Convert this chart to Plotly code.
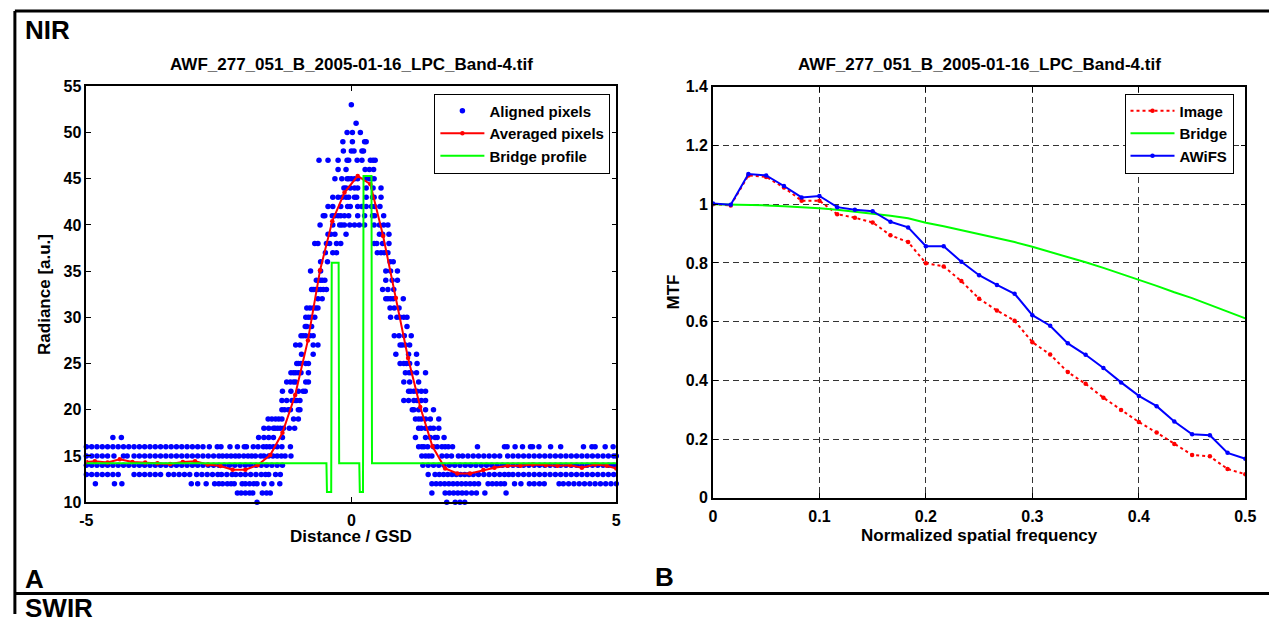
import plotly.graph_objects as go

W, H = 1280, 623

# ---------------- panel A: aligned edge profile ----------------
# radiance level -> distance positions of the aligned pixels
r10 = [-1.78, 1.8, 1.96, 2.05, 2.14]
r11 = [-2.15, -2.08, -2.0, -1.92, -1.86, -1.68, -1.6, -1.53,
       1.52, 1.77, 1.85, 1.93, 2.01, 2.09, 2.17, 2.27, 2.36, 2.52, 2.92]
r12 = [-4.83, -4.47, -4.33, -3.02, -2.9, -2.74, -2.58, -2.5, -2.43, -2.34, -2.27, -2.21,
       -2.06, -2.0, -1.92, -1.84, -1.78, -1.65, -1.5, -1.35,
       1.52, 1.6, 1.68, 1.76, 1.84, 1.92, 2.0, 2.08, 2.16, 2.24, 2.32, 2.4, 2.58, 2.66,
       2.74, 2.82, 2.89, 3.08, 3.2, 3.36, 3.45, 3.55, 3.64, 3.92, 4.0, 4.1, 4.2, 4.3,
       4.4, 4.5, 4.6, 4.7, 4.8, 4.9, 5.0]
r13 = [-5.0, -4.9, -4.8, -4.7, -4.6, -4.5, -4.4, -4.1, -4.0, -3.9, -3.8, -3.7, -3.6,
       -3.45, -3.35, -3.25, -3.15, -3.05, -2.92, -2.82, -2.72, -2.62, -2.52, -2.45,
       -2.35, -2.25, -2.18, -2.09, -2.0, -1.9, -1.8, -1.7, -1.62, -1.56, -1.43, -1.34,
       1.45, 1.58, 1.66, 1.74, 1.82, 1.9, 1.98, 2.06, 2.14, 2.22, 2.3, 2.4, 2.5, 2.6,
       2.7, 2.8, 2.89, 2.97, 3.05, 3.15, 3.25, 3.35, 3.45, 3.55, 3.65, 3.75, 3.85, 3.95,
       4.05, 4.15, 4.25, 4.35, 4.45, 4.55, 4.65, 4.75, 4.85, 4.95]
r14 = [-5.0, -4.9, -4.8, -4.7, -4.6, -4.5, -4.4, -4.3, -4.2, -4.1, -4.0, -3.9, -3.8,
       -3.7, -3.6, -3.5, -3.4, -3.3, -3.2, -3.1, -3.0, -2.9, -2.8, -2.7, -2.6, -2.5,
       -2.4, -2.3, -2.2, -2.1, -2.0, -1.9, -1.8, -1.7, -1.6, -1.5, -1.4, -1.3,
       1.35, 1.45, 1.55, 1.65, 1.75, 1.85, 1.95, 2.05, 2.15, 2.25, 2.35, 2.45, 2.55,
       2.65, 2.75, 2.85, 2.95, 3.05, 3.15, 3.25, 3.35, 3.45, 3.55, 3.65, 3.75, 3.85,
       3.95, 4.05, 4.15, 4.25, 4.35, 4.45, 4.55, 4.65, 4.75, 4.85, 4.95]
r15 = [-5.0, -4.9, -4.8, -4.7, -4.6, -4.48, -4.3, -4.23, -4.1, -4.0, -3.9, -3.8, -3.7,
       -3.6, -3.5, -3.4, -3.3, -3.2, -3.1, -3.0, -2.9, -2.8, -2.7, -2.6, -2.5, -2.43,
       -2.35, -2.27, -2.19, -2.12, -2.03, -1.95, -1.88, -1.81, -1.71, -1.65, -1.56,
       -1.48, -1.4, -1.32, -1.25, -1.14,
       1.33, 1.4, 1.46, 1.52, 1.71, 1.8, 1.89, 2.02, 2.1, 2.2, 2.3, 2.4, 2.5, 2.6, 2.7,
       2.8, 2.95, 3.05, 3.15, 3.25, 3.35, 3.45, 3.55, 3.65, 3.75, 3.85, 3.95, 4.05,
       4.15, 4.25, 4.35, 4.45, 4.55, 4.65, 4.75, 4.85, 4.95, 5.0]
r16 = [-5.0, -4.9, -4.8, -4.7, -4.6, -4.5, -4.4, -4.3, -4.2, -4.1, -4.0, -3.9, -3.8,
       -3.7, -3.6, -3.5, -3.4, -3.3, -3.2, -3.1, -3.0, -2.9, -2.8, -2.68, -2.53, -2.46,
       -2.29, -2.15, -2.02, -1.98, -1.85, -1.76, -1.66, -1.6, -1.54, -1.47, -1.4,
       -1.31, -1.15,
       1.27, 1.33, 1.37, 1.44, 1.55, 1.62, 1.71, 1.77, 1.83, 1.91, 2.38, 2.89, 2.94,
       3.09, 3.23, 3.38, 3.42, 3.54, 3.76, 3.95, 4.38, 4.54, 4.6, 4.79, 4.94]
r17 = [-4.5, -4.34, -1.75, -1.65, -1.56, -1.47, -1.3, 1.21, 1.4, 1.49, 1.58, 1.62, 1.75]
r18 = [-1.65, -1.56, -1.47, -1.44, -1.39, -1.34, -1.28, -1.17, -1.07,
       1.27, 1.32, 1.4, 1.49, 1.55, 1.65]
r19 = [-1.57, -1.5, -1.43, -1.37, -1.31, -1.09, -1.0, 1.21, 1.27, 1.32, 1.4, 1.49, 1.65]
r20 = [-1.31, -1.26, -1.19, -1.15, -1.0, -0.97, 1.15, 1.18, 1.27, 1.4, 1.55]
r21 = [-1.31, -1.22, -1.12, -1.06, -1.03, -0.97, 0.99, 1.08, 1.18, 1.24, 1.32, 1.4]
r22 = [-1.3, -1.14, -1.0, -0.91, -0.87, 1.08, 1.12, 1.18, 1.24, 1.32, 1.4]
r23 = [-1.22, -1.15, -1.09, -1.05, -0.86, -0.81, 0.99, 1.1, 1.27]
r24 = [-1.14, -1.09, -1.05, -1.0, -0.95, -0.81, 1.02, 1.09, 1.13, 1.23, 1.4]
r25 = [-1.03, -1.0, -0.95, -0.86, -0.81, 0.92, 0.99, 1.04, 1.1, 1.24]
r26 = [-0.94, -0.72, 0.84, 1.08, 1.23]
r27 = [-1.05, -0.97, -0.72, -0.63, 0.92, 0.96, 1.02, 1.1]
r28 = [-0.95, -0.91, -0.86, -0.78, -0.72, 0.81, 0.9, 1.0, 1.13]
r29 = [-0.87, -0.84, -0.75, 1.05]
r30 = [-0.86, -0.81, -0.76, -0.69, 0.74, 0.86, 0.92, 0.99, 1.05]
r31 = [-0.84, -0.78, -0.72, -0.67, -0.63, 0.73, 0.81, 0.9]
r32 = [-0.63, -0.55, 0.65, 0.69, 0.74, 0.79, 0.98]
r33 = [-0.75, -0.72, -0.68, -0.63, -0.58, -0.53, -0.47, 0.59, 0.69, 0.8]
r34 = [-0.66, -0.59, -0.55, -0.5, 0.65, 0.77, 0.87]
r35 = [-0.77, -0.58, 0.65, 0.74, 0.87]
r36 = [-0.58, -0.45, 0.73, 0.79]
r37 = [-0.49, -0.35, -0.28, 0.49, 0.56, 0.62, 0.69]
r38 = [-0.69, -0.63, -0.47, -0.41, -0.28, -0.2, 0.43, 0.48, 0.59, 0.71]
r39 = [-0.44, -0.39, -0.31, -0.1, 0.53, 0.59, 0.71]
r40 = [-0.59, -0.35, -0.22, -0.18, -0.13, -0.03, 0.06, 0.15, 0.25, 0.43, 0.53, 0.61, 0.69]
r41 = [-0.53, -0.5, -0.36, -0.31, -0.25, -0.2, -0.13, -0.05, 0.12, 0.25, 0.4, 0.44, 0.61]
r42 = [-0.44, -0.35, -0.2, -0.07, -0.02, 0.12, 0.2, 0.28, 0.38, 0.44, 0.54]
r43 = [-0.35, -0.25, -0.17, -0.1, -0.05, 0.06, 0.1, 0.28, 0.4, 0.43, 0.56]
r44 = [-0.14, -0.1, -0.02, 0.06, 0.12, 0.28, 0.41, 0.56]
r45 = [-0.31, -0.18, -0.08, -0.05, 0.0, 0.06, 0.12, 0.26, 0.34, 0.38, 0.43]
r46 = [-0.25, -0.1, 0.26, 0.34, 0.42]
r47 = [-0.61, -0.44, -0.25, -0.08, -0.05, 0.11, 0.2, 0.36, 0.41, 0.45]
r48 = [-0.15, 0.0, 0.05, 0.2, 0.23]
r49 = [-0.16, 0.02, 0.25, 0.28]
r50 = [-0.08, 0.02, 0.17]
r51 = [0.09]
r53 = [0.0]

rows = [(10, r10), (11, r11), (12, r12), (13, r13), (14, r14), (15, r15), (16, r16),
        (17, r17), (18, r18), (19, r19), (20, r20), (21, r21), (22, r22), (23, r23),
        (24, r24), (25, r25), (26, r26), (27, r27), (28, r28), (29, r29), (30, r30),
        (31, r31), (32, r32), (33, r33), (34, r34), (35, r35), (36, r36), (37, r37),
        (38, r38), (39, r39), (40, r40), (41, r41), (42, r42), (43, r43), (44, r44),
        (45, r45), (46, r46), (47, r47), (48, r48), (49, r49), (50, r50), (51, r51),
        (53, r53)]

# averaged profile
avg_x = [-5.0, -4.84, -4.6, -4.37, -4.13, -3.89, -3.66, -3.42, -3.18, -2.95, -2.71,
         -2.47, -2.24, -2.0, -1.77, -1.53, -1.3, -1.06, -0.82, -0.59, -0.36, -0.13,
         0.12, 0.36, 0.6, 0.84, 1.07, 1.3, 1.53, 1.77, 2.0, 2.24, 2.49, 2.7, 2.95,
         3.19, 3.42, 3.67, 3.89, 4.13, 4.35, 4.6, 4.82, 5.0]
avg_y = [14.35, 14.42, 14.3, 14.63, 14.35, 14.28, 14.2, 14.14, 14.35, 14.42, 14.07,
         13.9, 13.5, 13.5, 14.0, 15.1, 17.5, 21.6, 27.5, 35.1, 40.4, 43.5,
         45.3, 44.4, 38.8, 32.1, 25.6, 20.3, 16.05, 13.65, 13.1, 13.1, 13.48, 13.72,
         13.93, 13.93, 14.08, 14.0, 13.93, 14.0, 13.72, 14.08, 13.93, 13.65]

# bridge profile
bridge_x = [-5.0, -0.47, -0.46, -0.38, -0.37, -0.24, -0.23, 0.15, 0.16, 0.22, 0.23,
            0.38, 0.39, 5.0]
bridge_y = [14.2, 14.2, 11.1, 11.1, 35.9, 35.9, 14.2, 14.2, 11.1, 11.1, 45.3,
            45.3, 14.2, 14.2]

# ---------------- panel B: MTF ----------------
freq = [0.0, 0.0167, 0.0333, 0.05, 0.0667, 0.0833, 0.1, 0.1167, 0.1333, 0.15, 0.1667,
        0.1833, 0.2, 0.2167, 0.2333, 0.25, 0.2667, 0.2833, 0.3, 0.3167, 0.3333, 0.35,
        0.3667, 0.3833, 0.4, 0.4167, 0.4333, 0.45, 0.4667, 0.4833, 0.5]
mtf_image = [1.0, 0.996, 1.098, 1.093, 1.057, 1.012, 1.012, 0.966, 0.954, 0.938, 0.894,
             0.871, 0.799, 0.788, 0.738, 0.678, 0.638, 0.603, 0.53, 0.488, 0.428, 0.388,
             0.341, 0.299, 0.258, 0.222, 0.183, 0.146, 0.141, 0.098, 0.08]
mtf_bridge = [1.0, 0.999, 0.998, 0.996, 0.993, 0.99, 0.986, 0.981, 0.975, 0.968, 0.961,
              0.952, 0.937, 0.925, 0.912, 0.898, 0.885, 0.871, 0.855, 0.838, 0.82, 0.802,
              0.783, 0.763, 0.743, 0.722, 0.70, 0.68, 0.657, 0.634, 0.611]
mtf_awifs = [1.002, 0.998, 1.103, 1.098, 1.062, 1.023, 1.028, 0.99, 0.981, 0.976, 0.94,
             0.921, 0.857, 0.857, 0.804, 0.758, 0.725, 0.695, 0.622, 0.586, 0.526, 0.487,
             0.442, 0.393, 0.347, 0.312, 0.26, 0.216, 0.213, 0.153, 0.133]

title_text = "AWF_277_051_B_2005-01-16_LPC_Band-4.tif"

FONT = "Liberation Sans, Arial, sans-serif"


def px(v):
    return v / W


def py(v):
    return 1 - v / H


pix_x, pix_y = [], []
for level, xs in rows:
    pix_x.extend(xs)
    pix_y.extend([level] * len(xs))

fig = go.Figure()

fig.add_trace(go.Scatter(
    x=pix_x, y=pix_y, mode="markers", name="Aligned pixels",
    marker=dict(color="#0000ff", size=5.5, line=dict(width=0)),
    cliponaxis=False, xaxis="x", yaxis="y", legend="legend"))
fig.add_trace(go.Scatter(
    x=avg_x, y=avg_y, mode="lines+markers", name="Averaged pixels",
    line=dict(color="#ff0000", width=2), marker=dict(color="#ff0000", size=4.5),
    xaxis="x", yaxis="y", legend="legend"))
fig.add_trace(go.Scatter(
    x=bridge_x, y=bridge_y, mode="lines", name="Bridge profile",
    line=dict(color="#00ff00", width=2),
    xaxis="x", yaxis="y", legend="legend"))

fig.add_trace(go.Scatter(
    x=freq, y=mtf_image, mode="lines+markers", name="Image",
    line=dict(color="#ff0000", width=2, dash="dot"), marker=dict(color="#ff0000", size=4.5),
    xaxis="x2", yaxis="y2", legend="legend2"))
fig.add_trace(go.Scatter(
    x=freq, y=mtf_bridge, mode="lines", name="Bridge",
    line=dict(color="#00ff00", width=2),
    xaxis="x2", yaxis="y2", legend="legend2"))
fig.add_trace(go.Scatter(
    x=freq, y=mtf_awifs, mode="lines+markers", name="AWiFS",
    line=dict(color="#0000ff", width=2), marker=dict(color="#0000ff", size=4.5),
    xaxis="x2", yaxis="y2", legend="legend2"))

axis_common = dict(
    showline=True, linecolor="black", linewidth=1.5, mirror="ticks",
    ticks="inside", ticklen=5, tickwidth=1, tickcolor="black",
    zeroline=False, tickfont=dict(family=FONT, size=16, color="black", weight="bold"),
)
grid_style = dict(showgrid=True, gridcolor="#333333", gridwidth=1, griddash="6px,4px")

legend_common = dict(
    bgcolor="white", bordercolor="black", borderwidth=1, itemwidth=44,
    font=dict(family=FONT, size=15, color="black", weight="bold"),
    xanchor="right", yanchor="top", traceorder="normal",
)

fig.update_layout(
    width=W, height=H, margin=dict(l=0, r=0, t=0, b=0),
    paper_bgcolor="white", plot_bgcolor="white",
    font=dict(family=FONT, size=16, color="black", weight="bold"),
    xaxis=dict(domain=[px(80.5), px(618)], range=[-5, 5], anchor="y",
               tickvals=[-5, 0, 5], ticktext=["-5", "0", "5"], showgrid=False,
               ticklabelstandoff=3, **axis_common),
    yaxis=dict(domain=[py(508), py(80.5)], range=[10, 55], anchor="x",
               tickvals=[10, 15, 20, 25, 30, 35, 40, 45, 50, 55], showgrid=False,
               **axis_common),
    xaxis2=dict(domain=[px(716), px(1256)], range=[0, 0.5], anchor="y2",
                tickvals=[0, 0.1, 0.2, 0.3, 0.4, 0.5],
                ticktext=["0", "0.1", "0.2", "0.3", "0.4", "0.5"],
                ticklabelstandoff=3, **grid_style, **axis_common),
    yaxis2=dict(domain=[py(503.5), py(81)], range=[0, 1.4], anchor="x2",
                tickvals=[0, 0.2, 0.4, 0.6, 0.8, 1.0, 1.2, 1.4],
                ticktext=["0", "0.2", "0.4", "0.6", "0.8", "1", "1.2", "1.4"],
                **grid_style, **axis_common),
    legend=dict(x=px(612), y=py(88), **legend_common),
    legend2=dict(x=px(1244), y=py(88), **legend_common),
)

ann_font = dict(family=FONT, size=17, color="black", weight="bold")
big_font = dict(family=FONT, size=26, color="black", weight="bold")
annotations = [
    dict(text=title_text, x=px(349), y=py(58), xanchor="center", yanchor="middle",
         font=ann_font),
    dict(text=title_text, x=px(986), y=py(58), xanchor="center", yanchor="middle",
         font=ann_font),
    dict(text="Distance / GSD", x=px(349), y=py(543), xanchor="center",
         yanchor="middle", font=ann_font),
    dict(text="Normalized spatial frequency", x=px(986), y=py(542), xanchor="center",
         yanchor="middle", font=ann_font),
    dict(text="Radiance [a.u.]", x=px(38), y=py(294.5), xanchor="center",
         yanchor="middle", textangle=-90, font=ann_font),
    dict(text="MTF", x=px(676), y=py(292), xanchor="center", yanchor="middle",
         textangle=-90, font=ann_font),
    dict(text="NIR", x=px(16), y=py(23), xanchor="left", yanchor="middle", font=big_font),
    dict(text="A", x=px(16), y=py(587), xanchor="left", yanchor="middle", font=big_font),
    dict(text="B", x=px(655), y=py(585), xanchor="left", yanchor="middle", font=big_font),
    dict(text="SWIR", x=px(16), y=py(617), xanchor="left", yanchor="middle",
         font=big_font),
]
for a in annotations:
    a.update(xref="paper", yref="paper", showarrow=False)
fig.update_layout(annotations=annotations)

# panel frame
frame = dict(type="line", xref="paper", yref="paper", line=dict(color="black", width=3))
fig.update_layout(shapes=[
    dict(x0=px(8), x1=1, y0=py(3), y1=py(3), **frame),
    dict(x0=px(8), x1=px(8), y0=py(3), y1=0, **frame),
    dict(x0=px(8), x1=1, y0=py(602), y1=py(602), **frame),
])

fig.write_html("out.html")
